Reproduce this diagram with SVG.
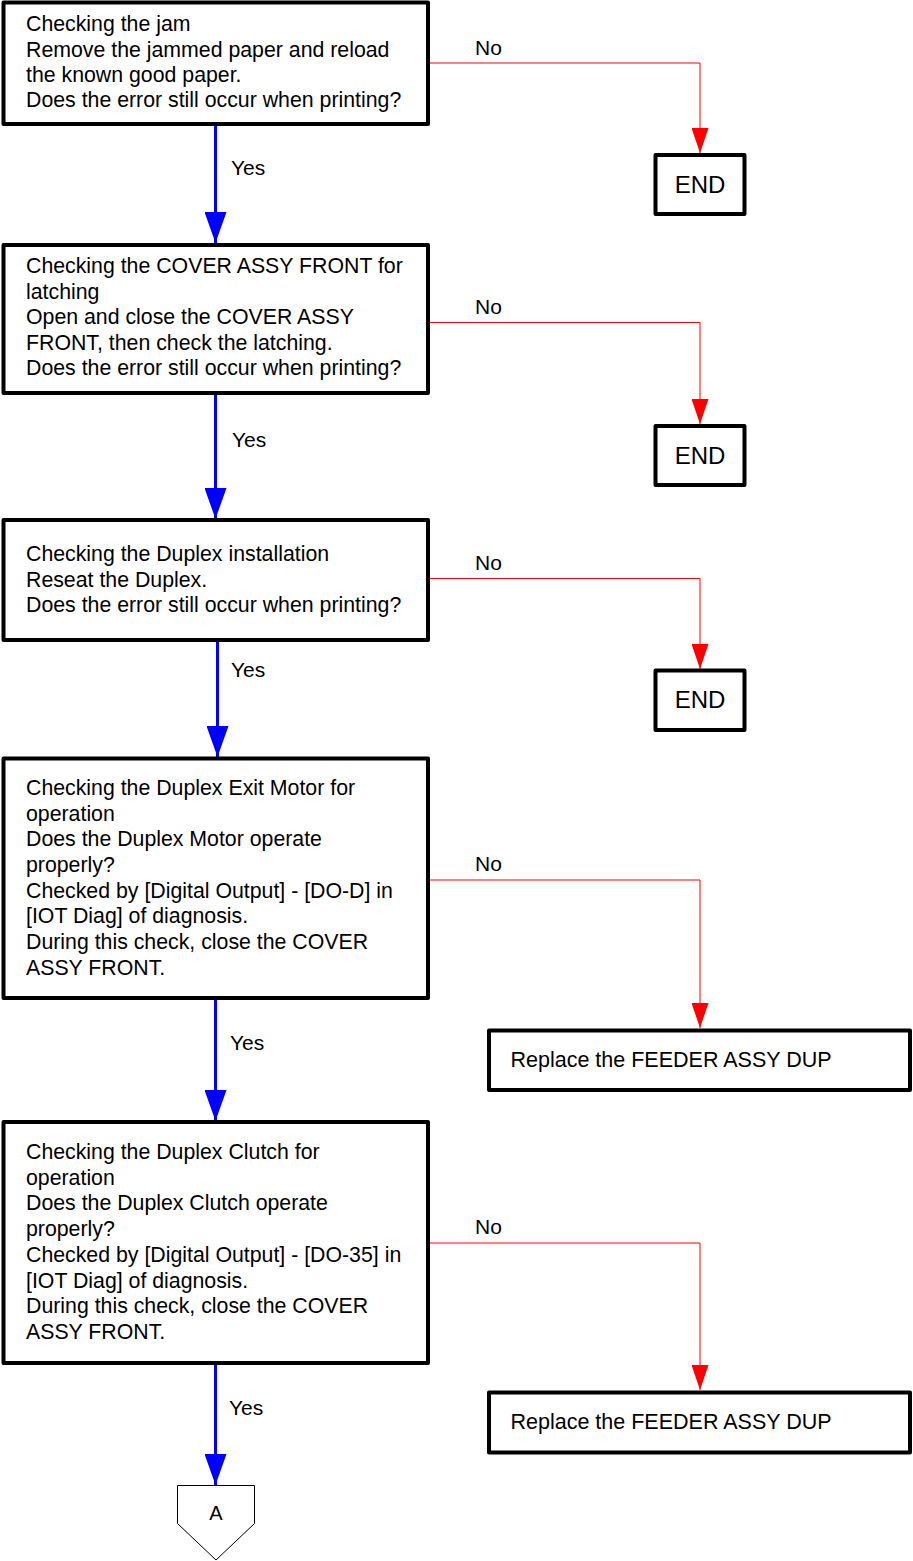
<svg xmlns="http://www.w3.org/2000/svg" width="913" height="1561" viewBox="0 0 913 1561">
<style>
.box{fill:#fff;stroke:#000;stroke-width:4;stroke-linejoin:round}
.t{font-family:"Liberation Sans",Arial,sans-serif;font-size:21.3px;fill:#000}
.rt{font-family:"Liberation Sans",Arial,sans-serif;font-size:21.5px;fill:#000}
.lbl{font-family:"Liberation Sans",Arial,sans-serif;font-size:21px;fill:#000}
.end{font-family:"Liberation Sans",Arial,sans-serif;font-size:24px;fill:#000;text-anchor:middle}
.yes{fill:none;stroke:#0000ff;stroke-width:3;marker-end:url(#ab)}
.no{fill:none;stroke:#ff0000;stroke-width:1;marker-end:url(#ar)}
</style>
<defs>
<marker id="ab" markerUnits="userSpaceOnUse" viewBox="0 0 31 22" refX="31" refY="11" markerWidth="31" markerHeight="22" orient="auto"><path d="M0,0 L31,11 L0,22 z" fill="#0000ff"/></marker>
<marker id="ar" markerUnits="userSpaceOnUse" viewBox="0 0 25 17" refX="25" refY="8.5" markerWidth="25" markerHeight="17" orient="auto"><path d="M0,0 L25,8.5 L0,17 z" fill="#ff0000"/></marker>
</defs>
<g id="connectors">
<path class="yes" d="M215.5,124 V243"/>
<path class="yes" d="M215.5,393 V519"/>
<path class="yes" d="M217.5,640 V757"/>
<path class="yes" d="M215.5,998 V1121"/>
<path class="yes" d="M215.5,1363 V1485"/>
<path class="no" d="M428,63 H700 V153"/>
<path class="no" d="M428,322.5 H700 V424"/>
<path class="no" d="M428,578.5 H700 V669"/>
<path class="no" d="M428,880 H700 V1028"/>
<path class="no" d="M428,1243 H700 V1390"/>
<text class="lbl" x="231" y="175">Yes</text>
<text class="lbl" x="232" y="447">Yes</text>
<text class="lbl" x="231" y="677">Yes</text>
<text class="lbl" x="230" y="1050">Yes</text>
<text class="lbl" x="229" y="1415">Yes</text>
<text class="lbl" x="475" y="55">No</text>
<text class="lbl" x="475" y="314">No</text>
<text class="lbl" x="475" y="570">No</text>
<text class="lbl" x="475" y="871">No</text>
<text class="lbl" x="475" y="1234">No</text>
</g>
<g id="n1">
<rect class="box" x="3.5" y="2.5" width="424.5" height="121.5"/>
<text class="t" x="26" y="31">Checking the jam</text>
<text class="t" x="26" y="57">Remove the jammed paper and reload</text>
<text class="t" x="26" y="82">the known good paper.</text>
<text class="t" x="26" y="107">Does the error still occur when printing?</text>
</g>
<g id="n2">
<rect class="box" x="3.5" y="245" width="424.5" height="148"/>
<text class="t" x="26" y="273">Checking the COVER ASSY FRONT for</text>
<text class="t" x="26" y="299">latching</text>
<text class="t" x="26" y="324">Open and close the COVER ASSY</text>
<text class="t" x="26" y="350">FRONT, then check the latching.</text>
<text class="t" x="26" y="375">Does the error still occur when printing?</text>
</g>
<g id="n3">
<rect class="box" x="3.5" y="520" width="424.5" height="120"/>
<text class="t" x="26" y="561">Checking the Duplex installation</text>
<text class="t" x="26" y="587">Reseat the Duplex.</text>
<text class="t" x="26" y="612">Does the error still occur when printing?</text>
</g>
<g id="n4">
<rect class="box" x="3.5" y="758.5" width="424.5" height="239.5"/>
<text class="t" x="26" y="795">Checking the Duplex Exit Motor for</text>
<text class="t" x="26" y="821">operation</text>
<text class="t" x="26" y="846">Does the Duplex Motor operate</text>
<text class="t" x="26" y="872">properly?</text>
<text class="t" x="26" y="898">Checked by [Digital Output] - [DO-D] in</text>
<text class="t" x="26" y="923">[IOT Diag] of diagnosis.</text>
<text class="t" x="26" y="949">During this check, close the COVER</text>
<text class="t" x="26" y="975">ASSY FRONT.</text>
</g>
<g id="n5">
<rect class="box" x="3.5" y="1122" width="424.5" height="241"/>
<text class="t" x="26" y="1159">Checking the Duplex Clutch for</text>
<text class="t" x="26" y="1185">operation</text>
<text class="t" x="26" y="1210">Does the Duplex Clutch operate</text>
<text class="t" x="26" y="1236">properly?</text>
<text class="t" x="26" y="1262">Checked by [Digital Output] - [DO-35] in</text>
<text class="t" x="26" y="1288">[IOT Diag] of diagnosis.</text>
<text class="t" x="26" y="1313">During this check, close the COVER</text>
<text class="t" x="26" y="1339">ASSY FRONT.</text>
</g>
<g id="end1">
<rect class="box" x="655.5" y="155" width="89" height="59"/>
<text class="end" x="700" y="193">END</text>
</g>
<g id="end2">
<rect class="box" x="655.5" y="426" width="89" height="59"/>
<text class="end" x="700" y="463.5">END</text>
</g>
<g id="end3">
<rect class="box" x="655.5" y="670.5" width="89" height="59.5"/>
<text class="end" x="700" y="708">END</text>
</g>
<g id="r1">
<rect class="box" x="489" y="1030.5" width="421" height="59.5"/>
<text class="rt" x="510.5" y="1067">Replace the FEEDER ASSY DUP</text>
</g>
<g id="r2">
<rect class="box" x="489" y="1392.5" width="421" height="60"/>
<text class="rt" x="510.5" y="1429">Replace the FEEDER ASSY DUP</text>
</g>
<g id="connA">
<path d="M177.5,1485.5 H254.5 V1523.5 L216,1560 L177.5,1523.5 Z" fill="#fff" stroke="#000" stroke-width="1"/>
<text x="216" y="1520" font-family="Liberation Sans,Arial,sans-serif" font-size="20" text-anchor="middle">A</text>
</g>
</svg>
